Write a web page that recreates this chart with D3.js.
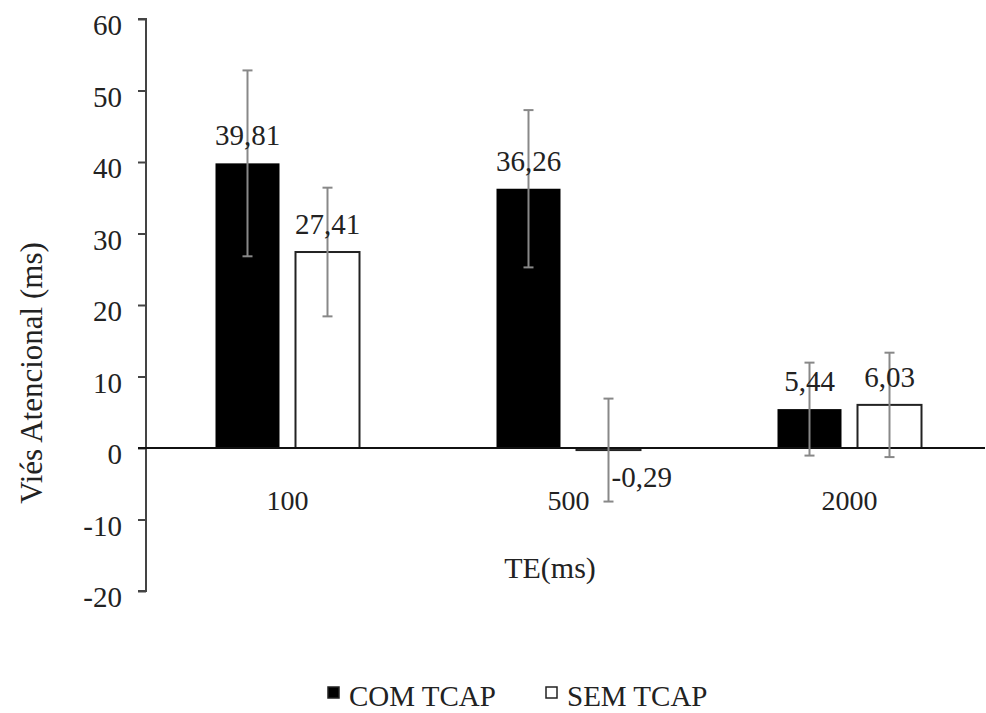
<!DOCTYPE html>
<html>
<head>
<meta charset="utf-8">
<script src="https://cdn.jsdelivr.net/npm/d3@7"></script>
<style>
  body { margin: 0; background: #fff; }
  svg { display: block; }
  text { font-family: "Liberation Serif", "Times New Roman", serif; fill: #222; }
</style>
</head>
<body>
<svg id="chart" width="986" height="713"></svg>
<script>
const categories = ["100", "500", "2000"];
const seriesNames = ["COM TCAP", "SEM TCAP"];
const comValues = [39.81, 36.26, 5.44];
const semValues = [27.41, -0.29, 6.03];
const comErrors = [13.0, 11.0, 6.5];
const semErrors = [9.0, 7.2, 7.3];
const yTicks = [-20, -10, 0, 10, 20, 30, 40, 50, 60];
const yTitle = "Viés Atencional (ms)";
const xTitle = "TE(ms)";

const seriesValues = [comValues, semValues];
const seriesErrors = [comErrors, semErrors];
const seriesFill = ["#000", "#fff"];

const data = [];
categories.forEach((c, i) => {
  seriesNames.forEach((s, j) => {
    data.push({ cat: c, series: s, sIdx: j, value: seriesValues[j][i], err: seriesErrors[j][i] });
  });
});

const svg = d3.select("#chart");
const y = d3.scaleLinear().domain([-20, 60]).range([591, 19]);
const x0 = d3.scaleBand().domain(categories).range([147, 990]).paddingInner(0).paddingOuter(0);
const x1 = d3.scaleBand().domain(seriesNames).range([-72, 72]).paddingInner(0.2).paddingOuter(0);
const axisX = 146;

// y axis
const yAxis = d3.axisLeft(y).tickValues(yTicks).tickSize(8).tickPadding(16).tickFormat(d => String(d));
const gy = svg.append("g").attr("transform", `translate(${axisX},0)`).call(yAxis);
gy.select(".domain").attr("stroke", "#444").attr("stroke-width", 2).attr("d", `M-8,${y(60)}H0V${y(-20)}H-8`);
gy.selectAll(".tick line").attr("stroke", "#444").attr("stroke-width", 2);
gy.selectAll(".tick text").attr("font-size", 29).attr("dy", "0.55em")
  .style("font-family", '"Liberation Serif", serif').attr("fill", "#222");

const cx = c => x0(c) + x0.bandwidth() / 2;

// bars
svg.append("g").selectAll("rect").data(data).join("rect")
  .attr("x", d => cx(d.cat) + x1(d.series))
  .attr("width", x1.bandwidth())
  .attr("y", d => y(Math.max(0, d.value)))
  .attr("height", d => Math.max(2, Math.abs(y(d.value) - y(0))))
  .attr("fill", d => seriesFill[d.sIdx])
  .attr("stroke", d => d.sIdx === 1 ? "#222" : "none")
  .attr("stroke-width", 2);

// zero line
svg.append("line").attr("x1", axisX - 8).attr("x2", 985)
  .attr("y1", y(0)).attr("y2", y(0)).attr("stroke", "#111").attr("stroke-width", 2);

// error bars
const eb = svg.append("g").attr("stroke", "#888").attr("stroke-width", 2);
data.forEach(d => {
  const ex = cx(d.cat) + x1(d.series) + x1.bandwidth() / 2;
  eb.append("line").attr("x1", ex).attr("x2", ex).attr("y1", y(d.value + d.err)).attr("y2", y(d.value - d.err));
  eb.append("line").attr("x1", ex - 5).attr("x2", ex + 5).attr("y1", y(d.value + d.err)).attr("y2", y(d.value + d.err));
  eb.append("line").attr("x1", ex - 5).attr("x2", ex + 5).attr("y1", y(d.value - d.err)).attr("y2", y(d.value - d.err));
});

// value labels
const fmt = v => d3.format(".2f")(v).replace(".", ",").replace("−", "-");
svg.append("g").selectAll("text").data(data).join("text")
  .attr("x", d => cx(d.cat) + x1(d.series) + x1.bandwidth() / 2 + (d.value < 0 ? 3 : 0))
  .attr("y", d => d.value >= 0 ? y(d.value) - 18 : y(d.value) + 37)
  .attr("text-anchor", d => d.value < 0 ? "start" : "middle")
  .attr("font-size", 29)
  .text(d => fmt(d.value));

// category labels
svg.append("g").selectAll("text").data(categories).join("text")
  .attr("x", d => cx(d)).attr("y", 510)
  .attr("text-anchor", "middle").attr("font-size", 28)
  .text(d => d);

// axis titles
svg.append("text").attr("x", 550).attr("y", 578).attr("text-anchor", "middle")
  .attr("font-size", 30).text(xTitle);
svg.append("text").attr("transform", "translate(42,373) rotate(-90)")
  .attr("text-anchor", "middle").attr("font-size", 31).text(yTitle);

// legend
const legendX = [327, 545];
const lg = svg.append("g");
seriesNames.forEach((s, j) => {
  lg.append("rect").attr("x", legendX[j] + 1).attr("y", 687).attr("width", 11).attr("height", 11)
    .attr("fill", seriesFill[j]).attr("stroke", "#222").attr("stroke-width", 1.5);
  lg.append("text").attr("x", legendX[j] + 22).attr("y", 706).attr("font-size", 29).text(s);
});
</script>
</body>
</html>
